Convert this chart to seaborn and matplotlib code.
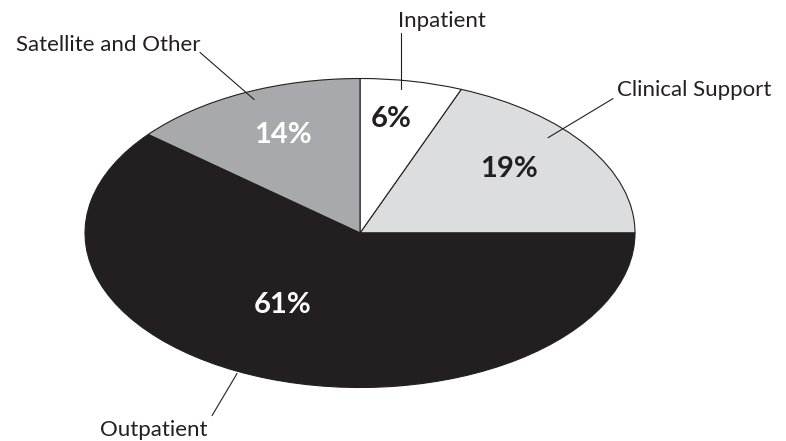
import matplotlib
matplotlib.use("Agg")
import matplotlib.pyplot as plt
import seaborn as sns

sns.set_theme(style="white")
plt.rcParams["font.family"] = ["Lato", "DejaVu Sans"]

# datos del gráfico (orden antihorario desde las 3 en punto)
categories = ["Clinical Support", "Inpatient", "Satellite and Other", "Outpatient"]
shares = [19, 6, 14, 61]
colors = ["#dcdddf", "#ffffff", "#a7a9ac", "#231f20"]
pct_colors = ["#231f20", "#231f20", "#ffffff", "#ffffff"]

# posiciones (ejes normalizados del elipse) de etiquetas y líneas guía
pct_pos = [(0.542, 0.362), (0.113, 0.686), (-0.28, 0.583), (-0.28, -0.518)]
label_pos = [(0.935, 0.887), (0.138, 1.333), (-0.58, 1.178), (-0.556, -1.314)]
label_ha = ["left", "left", "right", "right"]
leader_out = [(0.92, 0.87), (0.149, 1.292), (-0.582, 1.169), (-0.538, -1.182)]
leader_in = [(0.684, 0.617), (0.149, 0.929), (-0.385, 0.864), (-0.447, -0.909)]

W, H = 786, 441
fig = plt.figure(figsize=(W / 100, H / 100), dpi=100)
cx, cy, rx, ry = 360, 233, 275, 154.5
ax = fig.add_axes([(cx - rx) / W, (H - cy - ry) / H, 2 * rx / W, 2 * ry / H])

ax.pie(shares, colors=colors, startangle=0, counterclock=True,
       wedgeprops=dict(edgecolor="#231f20", linewidth=0.8))
ax.set_aspect("auto")
ax.set_xlim(-1, 1)
ax.set_ylim(-1, 1)
ax.axis("off")

for i, name in enumerate(categories):
    ax.text(*pct_pos[i], f"{shares[i]}%", ha="center", va="baseline",
            fontsize=21, fontweight="bold", color=pct_colors[i])
    ax.text(*label_pos[i], name, ha=label_ha[i], va="baseline",
            fontsize=16, color="#231f20", clip_on=False)
    ax.plot([leader_out[i][0], leader_in[i][0]], [leader_out[i][1], leader_in[i][1]],
            color="#231f20", lw=0.8, clip_on=False)

plt.savefig("out.png", dpi=100)
